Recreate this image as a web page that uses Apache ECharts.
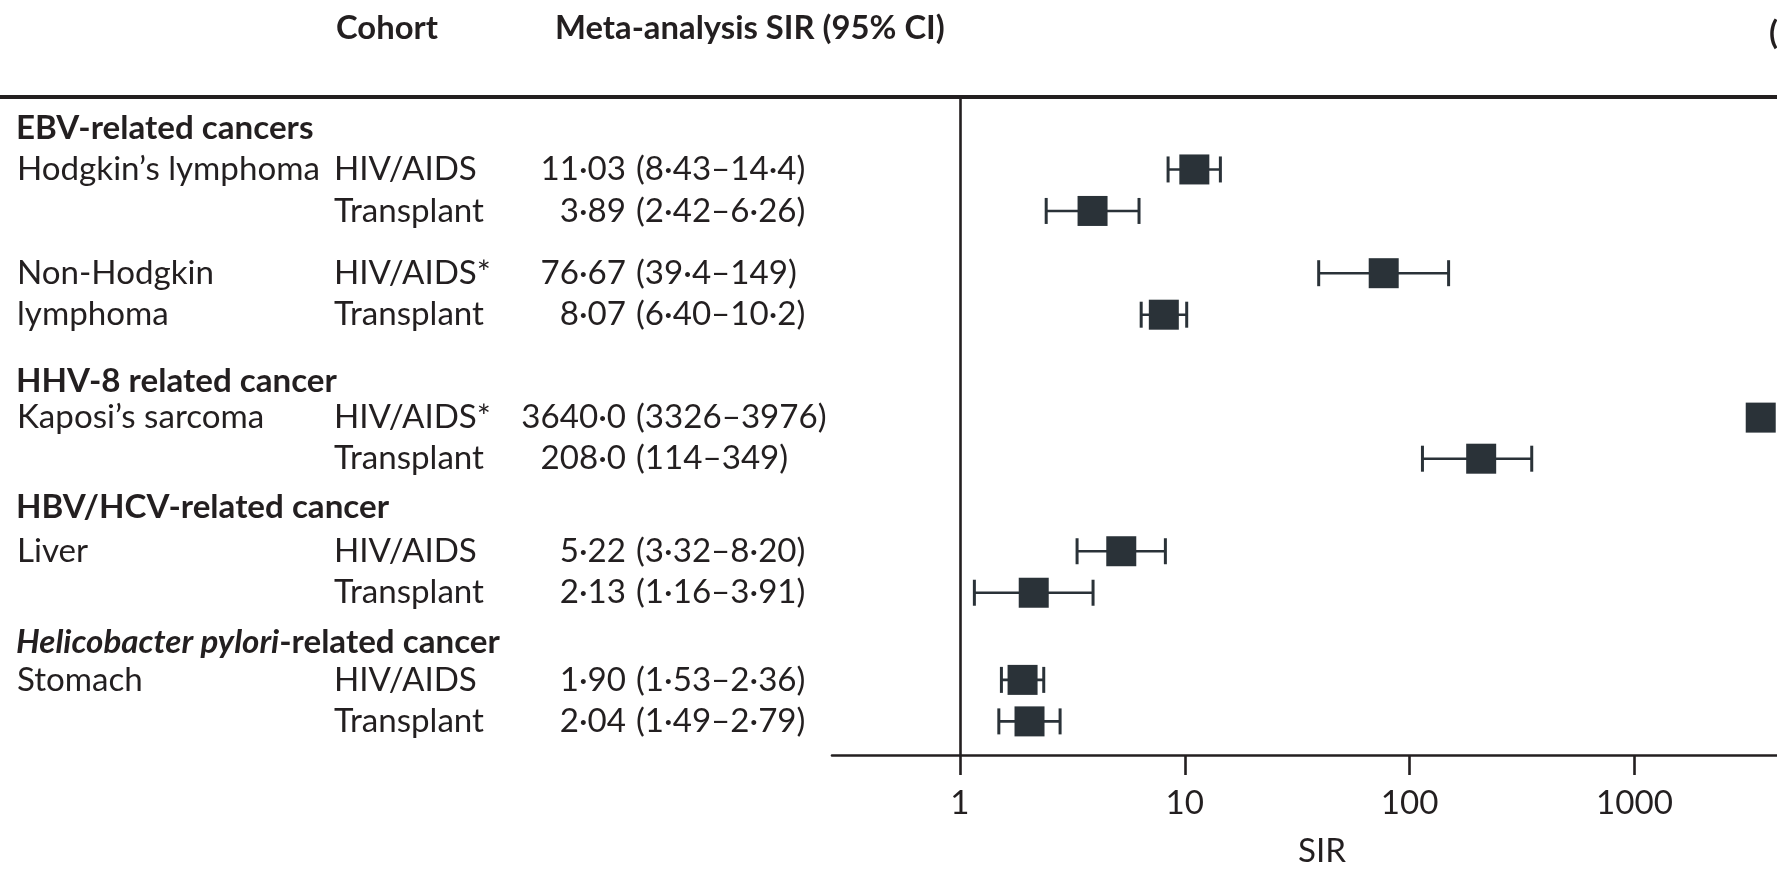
<!DOCTYPE html>
<html><head><meta charset="utf-8">
<script src="https://cdn.jsdelivr.net/npm/echarts@6/dist/echarts.min.js"></script>
<style>html,body{margin:0;padding:0;background:#fff}#c{width:1777px;height:873px}</style>
</head><body><div id="c"></div>
<script>
// ---- data ----
const groupHeaders = ['EBV-related cancers', 'HHV-8 related cancer', 'HBV/HCV-related cancer', '{i|Helicobacter pylori}-related cancer'];
const cancerLabels = ['Hodgkin\u2019s lymphoma', '', 'Non-Hodgkin', 'lymphoma', 'Kaposi\u2019s sarcoma', '', 'Liver', '', 'Stomach', ''];
const cohorts = ['HIV/AIDS', 'Transplant', 'HIV/AIDS*', 'Transplant', 'HIV/AIDS*', 'Transplant', 'HIV/AIDS', 'Transplant', 'HIV/AIDS', 'Transplant'];
const estText = ['11\u00b703', '3\u00b789', '76\u00b767', '8\u00b707', '3640\u00b70', '208\u00b70', '5\u00b722', '2\u00b713', '1\u00b790', '2\u00b704'];
const ciText = ['(8\u00b743\u201314\u00b74)', '(2\u00b742\u20136\u00b726)', '(39\u00b74\u2013149)', '(6\u00b740\u201310\u00b72)', '(3326\u20133976)', '(114\u2013349)', '(3\u00b732\u20138\u00b720)', '(1\u00b716\u20133\u00b791)', '(1\u00b753\u20132\u00b736)', '(1\u00b749\u20132\u00b779)'];
const sir = [11.03, 3.89, 76.67, 8.07, 3640.0, 208.0, 5.22, 2.13, 1.90, 2.04];
const ciLow = [8.43, 2.42, 39.4, 6.40, 3326, 114, 3.32, 1.16, 1.53, 1.49];
const ciHigh = [14.4, 6.26, 149, 10.2, 3976, 349, 8.20, 3.91, 2.36, 2.79];
const tickValues = [1, 10, 100, 1000];

// ---- layout (row positions in line units) ----
const rowLine = [1, 2, 3.5, 4.5, 6.98, 7.97, 10.2, 11.2, 13.3, 14.3];
const headerLine = [0, 6.1, 9.15, 12.4];

const FONT = 'Lato, "Liberation Sans", sans-serif';
const TXT = '#231f20';
const MARK = '#2a3238';
const ctx = document.createElement('canvas').getContext('2d');
function fit(text, target, weight) { ctx.font = (weight || 'normal') + ' 100px ' + FONT; return 100 * target / ctx.measureText(text).width; }
const fsReg = fit('Transplant', 150);
const fsBold = fit('Meta-analysis SIR (95% CI)', 390, 'bold');

const chart = echarts.init(document.getElementById('c'), null, { renderer: 'canvas' });

function forestItem(params, api) {
  const r = api.value(1);
  const pE = api.coord([api.value(0), r]);
  const pL = api.coord([api.value(2), r]);
  const pH = api.coord([api.value(3), r]);
  const y = pE[1];
  const cap = 13, half = 15;
  return { type: 'group', children: [
    { type: 'line', shape: { x1: pL[0], y1: y, x2: pH[0], y2: y }, style: { stroke: MARK, lineWidth: 2.6 } },
    { type: 'line', shape: { x1: pL[0], y1: y - cap, x2: pL[0], y2: y + cap }, style: { stroke: MARK, lineWidth: 3 } },
    { type: 'line', shape: { x1: pH[0], y1: y - cap, x2: pH[0], y2: y + cap }, style: { stroke: MARK, lineWidth: 3 } },
    { type: 'rect', shape: { x: pE[0] - half, y: y - half, width: half * 2, height: half * 2 }, style: { fill: MARK } }
  ] };
}

function textRowItem(params, api) {
  const i = params.dataIndex;
  const y = api.coord([1, api.value(1)])[1];
  const base = { fontFamily: FONT, fontSize: fsReg, fill: TXT, verticalAlign: 'middle' };
  return { type: 'group', children: [
    { type: 'text', style: Object.assign({}, base, { x: 17, y: y, text: cancerLabels[i], align: 'left' }) },
    { type: 'text', style: Object.assign({}, base, { x: 334, y: y, text: cohorts[i], align: 'left' }) },
    { type: 'text', style: Object.assign({}, base, { x: 626, y: y, text: estText[i], align: 'right' }) },
    { type: 'text', style: Object.assign({}, base, { x: 636, y: y, text: ciText[i], align: 'left' }) }
  ] };
}

function headerItem(params, api) {
  const i = params.dataIndex;
  const y = api.coord([1, api.value(1)])[1];
  return { type: 'text', style: {
    x: 16, y: y, text: groupHeaders[i], fontFamily: FONT, fontSize: fsReg, fontWeight: 'bold', fill: TXT,
    verticalAlign: 'middle', align: 'left',
    rich: { i: { fontFamily: FONT, fontSize: fsReg, fontWeight: 'bold', fontStyle: 'italic', fill: TXT } }
  } };
}

chart.setOption({
  animation: false,
  backgroundColor: '#ffffff',
  grid: { left: 832, right: 0, top: 96, bottom: 118, containLabel: false, outerBoundsMode: 'none' },
  xAxis: {
    type: 'log', logBase: 10, min: 0.27, max: 4300, position: 'bottom',
    axisLine: { show: true, onZero: false, lineStyle: { color: TXT, width: 2.6 } },
    axisTick: { show: true, length: 20, customValues: tickValues, lineStyle: { color: TXT, width: 2.6 } },
    axisLabel: { show: true, customValues: tickValues, margin: 32, color: TXT, fontFamily: FONT, fontSize: fsReg,
      formatter: v => String(Math.round(v)) },
    splitLine: { show: false },
    name: 'SIR', nameLocation: 'middle', nameGap: 80,
    nameTextStyle: { color: TXT, fontFamily: FONT, fontSize: fsReg, padding: [0, 0, 0, 35] }
  },
  yAxis: { type: 'value', inverse: true, min: -0.77, max: 15.11, show: false },
  series: [
    {
      type: 'custom', name: 'forest', clip: false, renderItem: forestItem,
      encode: { x: [0, 2, 3], y: 1 },
      data: sir.map((v, i) => [v, rowLine[i], ciLow[i], ciHigh[i]]),
      markLine: { silent: true, symbol: 'none', label: { show: false },
        lineStyle: { color: TXT, width: 2.6, type: 'solid' }, data: [{ xAxis: 1 }] },
      z: 3
    },
    {
      type: 'custom', name: 'rowText', clip: false, renderItem: textRowItem,
      encode: { x: 0, y: 1 }, data: rowLine.map(r => [1, r]), z: 2
    },
    {
      type: 'custom', name: 'headers', clip: false, renderItem: headerItem,
      encode: { x: 0, y: 1 }, data: headerLine.map(r => [1, r]), z: 2
    }
  ],
  graphic: [
    { type: 'rect', shape: { x: 0, y: 95, width: 1777, height: 4 }, style: { fill: TXT }, z: 10 },
    { type: 'text', style: { x: 336, y: 28, text: 'Cohort', fontFamily: FONT, fontSize: fsBold, fontWeight: 'bold', fill: TXT, verticalAlign: 'middle' } },
    { type: 'text', style: { x: 555, y: 28, text: 'Meta-analysis SIR (95% CI)', fontFamily: FONT, fontSize: fsBold, fontWeight: 'bold', fill: TXT, verticalAlign: 'middle' } },
    { type: 'text', style: { x: 1769, y: 33, text: '(', fontFamily: FONT, fontSize: fsBold, fontWeight: 'bold', fill: TXT, verticalAlign: 'middle' } }
  ]
});
</script>
</body></html>
